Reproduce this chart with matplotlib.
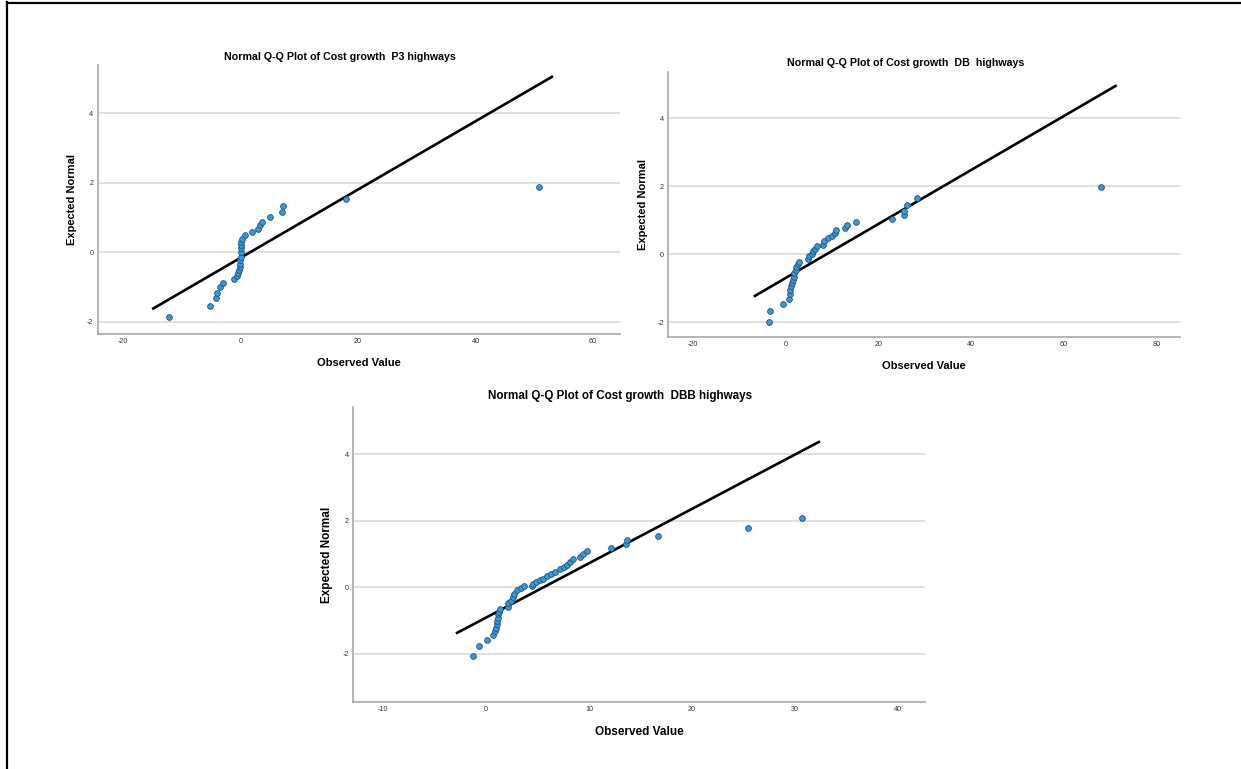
import matplotlib
matplotlib.use("Agg")
import matplotlib.pyplot as plt
import numpy as np

plt.rcParams['font.family'] = ['Liberation Sans', 'DejaVu Sans']
plt.rcParams['axes.unicode_minus'] = False

# P3 highways: observed cost growth vs expected normal
p3_obs = [-12.2, -5.2, -4.3, -4.1, -3.45, -3.0, -1.1, -0.6, -0.45, -0.34, -0.17, -0.17,
          -0.1, 0.0, 0.0, 0.0, 0.05, 0.1, 0.17, 0.7, 2.0, 2.9, 3.2, 3.6, 5.0, 7.0, 7.25,
          18.0, 50.8]
p3_exp = [-1.87, -1.55, -1.32, -1.16, -1.01, -0.89, -0.78, -0.69, -0.6, -0.52, -0.43, -0.33,
          -0.22, -0.14, 0.01, 0.12, 0.21, 0.3, 0.39, 0.49, 0.59, 0.68, 0.78, 0.88, 1.01, 1.15,
          1.33, 1.54, 1.87]
p3_mean, p3_sd = 1.6, 10.2
p3_line_x = [-14.9, 53.0]

# DB highways
db_obs = [-3.66, -3.37, -0.61, 0.62, 0.84, 0.98, 1.13, 1.34, 1.56, 1.7, 1.85, 2.07, 2.28,
          2.57, 2.86, 4.82, 5.04, 5.55, 5.9, 6.27, 6.63, 8.0, 8.3, 9.17, 10.0, 10.5, 10.8,
          12.65, 13.15, 15.2, 22.9, 25.4, 25.6, 26.2, 28.4, 68.1]
db_exp = [-1.99, -1.66, -1.46, -1.31, -1.18, -1.07, -0.95, -0.86, -0.76, -0.66, -0.56, -0.46,
          -0.37, -0.29, -0.22, -0.13, -0.05, 0.01, 0.08, 0.15, 0.23, 0.28, 0.39, 0.46, 0.52,
          0.61, 0.7, 0.77, 0.86, 0.96, 1.04, 1.16, 1.28, 1.46, 1.65, 1.99]
db_mean, db_sd = 8.8, 12.6
db_line_x = [-6.7, 71.2]

# DBB highways
dbb_obs = [-1.26, -0.65, 0.06, 0.71, 0.84, 0.97, 1.04, 1.1, 1.13, 1.2, 1.29, 1.36, 2.14, 2.17,
           2.43, 2.59, 2.72, 2.98, 3.4, 3.69, 4.43, 4.56, 4.85, 5.28, 5.53, 5.92, 6.34, 6.7,
           7.22, 7.54, 7.83, 8.12, 8.41, 9.16, 9.39, 9.84, 12.17, 13.6, 13.72, 16.73, 25.45, 30.7]
dbb_exp = [-2.08, -1.78, -1.58, -1.44, -1.32, -1.22, -1.12, -1.02, -0.92, -0.82, -0.74, -0.66,
           -0.59, -0.49, -0.41, -0.31, -0.21, -0.09, -0.01, 0.03, 0.05, 0.11, 0.16, 0.21, 0.25,
           0.35, 0.41, 0.47, 0.54, 0.61, 0.67, 0.75, 0.84, 0.91, 1.0, 1.1, 1.19, 1.3, 1.42,
           1.55, 1.77, 2.07]
dbb_mean, dbb_sd = 5.6, 6.1
dbb_line_x = [-2.8, 32.3]

W, H = 1241, 769
fig = plt.figure(figsize=(W / 100, H / 100), dpi=100)

# left / top border of the screenshot
fig.add_artist(plt.Line2D([7 / W, 7 / W], [0, 1 - 2 / H], color='black', lw=1.6))
fig.add_artist(plt.Line2D([7 / W, 1], [1 - 2.5 / H, 1 - 2.5 / H], color='black', lw=1.6))


def px_axes(left, top, right, bottom):
    return fig.add_axes([left / W, 1 - bottom / H, (right - left) / W, (bottom - top) / H])


def qq_panel(ax, obs, exp, mean, sd, line_x, xlim, ylim, xticks, big=False):
    ax.set_xlim(*xlim)
    ax.set_ylim(*ylim)
    ax.set_xticks(xticks)
    ax.set_yticks([-2, 0, 2, 4])
    ax.grid(axis='y', color='#d9d9d9', lw=1.2)
    ax.set_axisbelow(True)
    for s in ['top', 'right']:
        ax.spines[s].set_visible(False)
    for s in ['left', 'bottom']:
        ax.spines[s].set_color('#a0a0a0')
        ax.spines[s].set_linewidth(1.1)
    ax.tick_params(length=0, labelsize=5.2, labelcolor='#333333', pad=3)
    lx = np.array(line_x)
    ax.plot(lx, (lx - mean) / sd, color='black', lw=1.9, zorder=2)
    ax.scatter(obs, exp, s=17, color='#3a9ad9', edgecolor='#1f4e79', linewidth=0.6, zorder=3)
    fs = 8.5 if big else 8
    ax.set_xlabel('Observed Value', fontsize=fs, fontweight='bold', labelpad=9)
    ax.set_ylabel('Expected Normal', fontsize=fs, fontweight='bold', labelpad=7)


ax1 = px_axes(97.5, 65, 620, 334)
qq_panel(ax1, p3_obs, p3_exp, p3_mean, p3_sd, p3_line_x,
         (-24.4, 64.6), (-2.35, 5.38), [-20, 0, 20, 40, 60])
fig.text(340 / W, 1 - 57 / H, 'Normal Q-Q Plot of Cost growth  P3 highways',
         ha='center', va='center', fontsize=7.7, fontweight='bold')

ax2 = px_axes(668.3, 71.7, 1180, 337)
qq_panel(ax2, db_obs, db_exp, db_mean, db_sd, db_line_x,
         (-25.4, 85.1), (-2.44, 5.37), [-20, 0, 20, 40, 60, 80])
fig.text(906 / W, 1 - 63 / H, 'Normal Q-Q Plot of Cost growth  DB  highways',
         ha='center', va='center', fontsize=7.7, fontweight='bold')

ax3 = px_axes(353, 407, 925, 702)
qq_panel(ax3, dbb_obs, dbb_exp, dbb_mean, dbb_sd, dbb_line_x,
         (-12.9, 42.6), (-3.46, 5.43), [-10, 0, 10, 20, 30, 40], big=True)
fig.text(620 / W, 1 - 396 / H, 'Normal Q-Q Plot of Cost growth  DBB highways',
         ha='center', va='center', fontsize=8.4, fontweight='bold')

fig.savefig('out.png', dpi=100)
